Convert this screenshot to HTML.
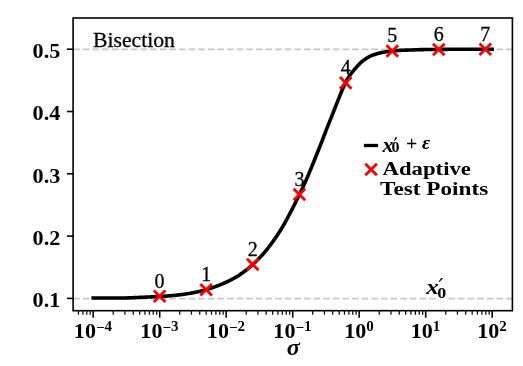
<!DOCTYPE html><html><head><meta charset="utf-8"><style>html,body{margin:0;padding:0;background:#fff;width:523px;height:366px;overflow:hidden}svg{display:block;will-change:transform}text{font-family:"Liberation Serif",serif}</style></head><body>
<svg width="523" height="366" viewBox="0 0 523 366">
<line x1="73.1" y1="49.30" x2="512.4" y2="49.30" stroke="#c8c8c8" stroke-width="1.82" stroke-dasharray="6.72 2.90"/>
<line x1="73.1" y1="298.70" x2="512.4" y2="298.70" stroke="#c8c8c8" stroke-width="1.82" stroke-dasharray="6.72 2.90"/>
<polyline points="93.20,298.05 94.00,298.05 94.80,298.05 95.60,298.05 96.40,298.05 97.20,298.05 98.00,298.05 98.80,298.05 99.60,298.05 100.40,298.05 101.20,298.05 102.00,298.05 102.80,298.05 103.59,298.05 104.39,298.04 105.19,298.04 105.99,298.04 106.79,298.04 107.59,298.04 108.39,298.04 109.19,298.04 109.99,298.04 110.79,298.04 111.59,298.04 112.39,298.04 113.19,298.04 113.99,298.04 114.79,298.04 115.59,298.04 116.39,298.04 117.19,298.04 117.99,298.04 118.79,298.04 119.59,298.04 120.39,298.04 121.19,298.04 121.99,298.03 122.79,298.02 123.58,298.01 124.38,297.99 125.18,297.98 125.98,297.96 126.78,297.94 127.58,297.91 128.38,297.89 129.18,297.86 129.98,297.83 130.78,297.80 131.58,297.77 132.38,297.74 133.18,297.70 133.98,297.67 134.78,297.63 135.58,297.60 136.38,297.56 137.18,297.52 137.98,297.48 138.78,297.45 139.58,297.41 140.38,297.37 141.18,297.33 141.98,297.29 142.78,297.26 143.57,297.22 144.37,297.18 145.17,297.15 145.97,297.11 146.77,297.08 147.57,297.05 148.37,297.01 149.17,296.98 149.97,296.94 150.77,296.91 151.57,296.87 152.37,296.84 153.17,296.80 153.97,296.76 154.77,296.73 155.57,296.69 156.37,296.65 157.17,296.61 157.97,296.57 158.77,296.52 159.57,296.48 160.37,296.44 161.17,296.39 161.97,296.34 162.77,296.30 163.56,296.25 164.36,296.20 165.16,296.14 165.96,296.09 166.76,296.03 167.56,295.97 168.36,295.91 169.16,295.85 169.96,295.78 170.76,295.71 171.56,295.64 172.36,295.57 173.16,295.49 173.96,295.42 174.76,295.34 175.56,295.25 176.36,295.17 177.16,295.09 177.96,295.00 178.76,294.91 179.56,294.82 180.36,294.72 181.16,294.63 181.96,294.52 182.76,294.42 183.55,294.31 184.35,294.19 185.15,294.07 185.95,293.95 186.75,293.83 187.55,293.70 188.35,293.56 189.15,293.43 189.95,293.29 190.75,293.15 191.55,293.01 192.35,292.86 193.15,292.71 193.95,292.56 194.75,292.41 195.55,292.25 196.35,292.08 197.15,291.91 197.95,291.74 198.75,291.57 199.55,291.38 200.35,291.20 201.15,291.01 201.95,290.81 202.75,290.61 203.54,290.41 204.34,290.20 205.14,289.98 205.94,289.76 206.74,289.54 207.54,289.30 208.34,289.06 209.14,288.81 209.94,288.56 210.74,288.29 211.54,288.02 212.34,287.75 213.14,287.47 213.94,287.18 214.74,286.88 215.54,286.59 216.34,286.28 217.14,285.97 217.94,285.66 218.74,285.34 219.54,285.02 220.34,284.70 221.14,284.37 221.94,284.04 222.74,283.71 223.53,283.37 224.33,283.02 225.13,282.67 225.93,282.31 226.73,281.94 227.53,281.56 228.33,281.18 229.13,280.79 229.93,280.40 230.73,279.99 231.53,279.58 232.33,279.15 233.13,278.72 233.93,278.28 234.73,277.83 235.53,277.38 236.33,276.91 237.13,276.42 237.93,275.93 238.73,275.42 239.53,274.90 240.33,274.37 241.13,273.83 241.93,273.28 242.73,272.71 243.52,272.14 244.32,271.55 245.12,270.95 245.92,270.34 246.72,269.72 247.52,269.09 248.32,268.45 249.12,267.79 249.92,267.11 250.72,266.42 251.52,265.71 252.32,264.99 253.12,264.25 253.92,263.50 254.72,262.73 255.52,261.95 256.32,261.16 257.12,260.35 257.92,259.54 258.72,258.71 259.52,257.87 260.32,257.03 261.12,256.17 261.92,255.30 262.72,254.43 263.51,253.55 264.31,252.64 265.11,251.70 265.91,250.74 266.71,249.76 267.51,248.76 268.31,247.75 269.11,246.71 269.91,245.67 270.71,244.61 271.51,243.53 272.31,242.42 273.11,241.30 273.91,240.15 274.71,238.99 275.51,237.82 276.31,236.64 277.11,235.45 277.91,234.25 278.71,233.04 279.51,231.80 280.31,230.54 281.11,229.24 281.91,227.92 282.71,226.57 283.50,225.19 284.30,223.80 285.10,222.38 285.90,220.95 286.70,219.50 287.50,218.02 288.30,216.52 289.10,215.00 289.90,213.47 290.70,211.94 291.50,210.40 292.30,208.84 293.10,207.28 293.90,205.70 294.70,204.11 295.50,202.50 296.30,200.88 297.10,199.25 297.90,197.61 298.70,195.97 299.50,194.31 300.30,192.66 301.10,190.99 301.90,189.32 302.69,187.63 303.49,185.92 304.29,184.18 305.09,182.42 305.89,180.63 306.69,178.81 307.49,176.97 308.29,175.08 309.09,173.17 309.89,171.23 310.69,169.29 311.49,167.35 312.29,165.39 313.09,163.43 313.89,161.46 314.69,159.48 315.49,157.49 316.29,155.50 317.09,153.50 317.89,151.50 318.69,149.48 319.49,147.46 320.29,145.43 321.09,143.38 321.89,141.32 322.68,139.25 323.48,137.17 324.28,135.10 325.08,133.03 325.88,130.96 326.68,128.91 327.48,126.88 328.28,124.85 329.08,122.84 329.88,120.83 330.68,118.83 331.48,116.82 332.28,114.81 333.08,112.80 333.88,110.76 334.68,108.72 335.48,106.68 336.28,104.64 337.08,102.60 337.88,100.59 338.68,98.58 339.48,96.61 340.28,94.66 341.08,92.72 341.88,90.82 342.67,88.95 343.47,87.13 344.27,85.28 345.07,83.46 345.87,81.75 346.67,80.21 347.47,78.86 348.27,77.61 349.07,76.45 349.87,75.35 350.67,74.29 351.47,73.26 352.27,72.24 353.07,71.22 353.87,70.22 354.67,69.24 355.47,68.29 356.27,67.36 357.07,66.46 357.87,65.58 358.67,64.73 359.47,63.90 360.27,63.08 361.07,62.32 361.87,61.63 362.66,61.01 363.46,60.41 364.26,59.82 365.06,59.25 365.86,58.69 366.66,58.17 367.46,57.66 368.26,57.19 369.06,56.74 369.86,56.32 370.66,55.93 371.46,55.58 372.26,55.26 373.06,54.96 373.86,54.68 374.66,54.41 375.46,54.16 376.26,53.92 377.06,53.69 377.86,53.47 378.66,53.27 379.46,53.08 380.26,52.89 381.06,52.72 381.86,52.55 382.65,52.40 383.45,52.24 384.25,52.10 385.05,51.96 385.85,51.82 386.65,51.69 387.45,51.57 388.25,51.45 389.05,51.34 389.85,51.23 390.65,51.13 391.45,51.04 392.25,50.95 393.05,50.86 393.85,50.78 394.65,50.71 395.45,50.65 396.25,50.60 397.05,50.54 397.85,50.50 398.65,50.45 399.45,50.41 400.25,50.37 401.05,50.33 401.85,50.30 402.64,50.26 403.44,50.23 404.24,50.20 405.04,50.17 405.84,50.14 406.64,50.11 407.44,50.08 408.24,50.05 409.04,50.03 409.84,50.00 410.64,49.98 411.44,49.95 412.24,49.93 413.04,49.90 413.84,49.87 414.64,49.85 415.44,49.82 416.24,49.79 417.04,49.76 417.84,49.72 418.64,49.69 419.44,49.66 420.24,49.65 421.04,49.63 421.84,49.61 422.63,49.60 423.43,49.59 424.23,49.57 425.03,49.56 425.83,49.55 426.63,49.54 427.43,49.53 428.23,49.52 429.03,49.51 429.83,49.50 430.63,49.49 431.43,49.48 432.23,49.47 433.03,49.46 433.83,49.46 434.63,49.45 435.43,49.44 436.23,49.43 437.03,49.43 437.83,49.42 438.63,49.41 439.43,49.41 440.23,49.40 441.03,49.39 441.83,49.38 442.62,49.38 443.42,49.37 444.22,49.36 445.02,49.35 445.82,49.34 446.62,49.34 447.42,49.33 448.22,49.32 449.02,49.32 449.82,49.31 450.62,49.30 451.42,49.30 452.22,49.29 453.02,49.28 453.82,49.28 454.62,49.27 455.42,49.27 456.22,49.27 457.02,49.26 457.82,49.26 458.62,49.25 459.42,49.25 460.22,49.25 461.02,49.25 461.82,49.25 462.61,49.24 463.41,49.24 464.21,49.24 465.01,49.24 465.81,49.24 466.61,49.23 467.41,49.23 468.21,49.23 469.01,49.23 469.81,49.23 470.61,49.23 471.41,49.22 472.21,49.22 473.01,49.22 473.81,49.22 474.61,49.22 475.41,49.22 476.21,49.22 477.01,49.21 477.81,49.21 478.61,49.21 479.41,49.21 480.21,49.21 481.01,49.21 481.81,49.21 482.60,49.21 483.40,49.21 484.20,49.20 485.00,49.20 485.80,49.20 486.60,49.20 487.40,49.20 488.20,49.20 489.00,49.20 489.80,49.20 490.60,49.20 491.40,49.20 492.20,49.20" fill="none" stroke="#000" stroke-width="3.6" stroke-linejoin="round" stroke-linecap="square"/>
<path d="M153.80,290.50L165.40,302.10M153.80,302.10L165.40,290.50" stroke="#ff0000" stroke-width="2.8" fill="none"/>
<text x="159.60" y="287.80" font-size="20" stroke="#000" stroke-width="0.3" text-anchor="middle">0</text>
<path d="M200.40,283.90L212.00,295.50M200.40,295.50L212.00,283.90" stroke="#ff0000" stroke-width="2.8" fill="none"/>
<text x="206.20" y="281.20" font-size="20" stroke="#000" stroke-width="0.3" text-anchor="middle">1</text>
<path d="M246.90,258.70L258.50,270.30M246.90,270.30L258.50,258.70" stroke="#ff0000" stroke-width="2.8" fill="none"/>
<text x="252.70" y="256.00" font-size="20" stroke="#000" stroke-width="0.3" text-anchor="middle">2</text>
<path d="M293.60,188.70L305.20,200.30M293.60,200.30L305.20,188.70" stroke="#ff0000" stroke-width="2.8" fill="none"/>
<text x="299.40" y="186.00" font-size="20" stroke="#000" stroke-width="0.3" text-anchor="middle">3</text>
<path d="M339.90,77.10L351.50,88.70M339.90,88.70L351.50,77.10" stroke="#ff0000" stroke-width="2.8" fill="none"/>
<text x="345.70" y="74.40" font-size="20" stroke="#000" stroke-width="0.3" text-anchor="middle">4</text>
<path d="M386.50,45.16L398.10,56.76M386.50,56.76L398.10,45.16" stroke="#ff0000" stroke-width="2.8" fill="none"/>
<text x="392.30" y="42.46" font-size="20" stroke="#000" stroke-width="0.3" text-anchor="middle">5</text>
<path d="M433.00,43.65L444.60,55.25M433.00,55.25L444.60,43.65" stroke="#ff0000" stroke-width="2.8" fill="none"/>
<text x="438.80" y="40.95" font-size="20" stroke="#000" stroke-width="0.3" text-anchor="middle">6</text>
<path d="M479.50,43.50L491.10,55.10M479.50,55.10L491.10,43.50" stroke="#ff0000" stroke-width="2.8" fill="none"/>
<text x="485.30" y="40.80" font-size="20" stroke="#000" stroke-width="0.3" text-anchor="middle">7</text>
<rect x="73.1" y="18.0" width="439.30" height="292.70" fill="none" stroke="#000" stroke-width="1.6"/>
<line x1="66.90" y1="298.40" x2="73.1" y2="298.40" stroke="#000" stroke-width="1.6"/>
<text font-size="21" font-weight="bold" text-anchor="end" transform="translate(60.3,307.10) scale(1.055,1)">0.1</text>
<line x1="66.90" y1="236.10" x2="73.1" y2="236.10" stroke="#000" stroke-width="1.6"/>
<text font-size="21" font-weight="bold" text-anchor="end" transform="translate(60.3,244.80) scale(1.055,1)">0.2</text>
<line x1="66.90" y1="173.80" x2="73.1" y2="173.80" stroke="#000" stroke-width="1.6"/>
<text font-size="21" font-weight="bold" text-anchor="end" transform="translate(60.3,182.50) scale(1.055,1)">0.3</text>
<line x1="66.90" y1="111.50" x2="73.1" y2="111.50" stroke="#000" stroke-width="1.6"/>
<text font-size="21" font-weight="bold" text-anchor="end" transform="translate(60.3,120.20) scale(1.055,1)">0.4</text>
<line x1="66.90" y1="49.20" x2="73.1" y2="49.20" stroke="#000" stroke-width="1.6"/>
<text font-size="21" font-weight="bold" text-anchor="end" transform="translate(60.3,57.90) scale(1.055,1)">0.5</text>
<line x1="93.20" y1="310.7" x2="93.20" y2="317.70" stroke="#000" stroke-width="1.6"/>
<line x1="78.45" y1="310.7" x2="78.45" y2="314.70" stroke="#000" stroke-width="1.2"/>
<line x1="82.90" y1="310.7" x2="82.90" y2="314.70" stroke="#000" stroke-width="1.2"/>
<line x1="86.76" y1="310.7" x2="86.76" y2="314.70" stroke="#000" stroke-width="1.2"/>
<line x1="90.16" y1="310.7" x2="90.16" y2="314.70" stroke="#000" stroke-width="1.2"/>
<line x1="159.70" y1="310.7" x2="159.70" y2="317.70" stroke="#000" stroke-width="1.6"/>
<line x1="113.22" y1="310.7" x2="113.22" y2="314.70" stroke="#000" stroke-width="1.2"/>
<line x1="124.93" y1="310.7" x2="124.93" y2="314.70" stroke="#000" stroke-width="1.2"/>
<line x1="133.24" y1="310.7" x2="133.24" y2="314.70" stroke="#000" stroke-width="1.2"/>
<line x1="139.68" y1="310.7" x2="139.68" y2="314.70" stroke="#000" stroke-width="1.2"/>
<line x1="144.95" y1="310.7" x2="144.95" y2="314.70" stroke="#000" stroke-width="1.2"/>
<line x1="149.40" y1="310.7" x2="149.40" y2="314.70" stroke="#000" stroke-width="1.2"/>
<line x1="153.26" y1="310.7" x2="153.26" y2="314.70" stroke="#000" stroke-width="1.2"/>
<line x1="156.66" y1="310.7" x2="156.66" y2="314.70" stroke="#000" stroke-width="1.2"/>
<line x1="226.20" y1="310.7" x2="226.20" y2="317.70" stroke="#000" stroke-width="1.6"/>
<line x1="179.72" y1="310.7" x2="179.72" y2="314.70" stroke="#000" stroke-width="1.2"/>
<line x1="191.43" y1="310.7" x2="191.43" y2="314.70" stroke="#000" stroke-width="1.2"/>
<line x1="199.74" y1="310.7" x2="199.74" y2="314.70" stroke="#000" stroke-width="1.2"/>
<line x1="206.18" y1="310.7" x2="206.18" y2="314.70" stroke="#000" stroke-width="1.2"/>
<line x1="211.45" y1="310.7" x2="211.45" y2="314.70" stroke="#000" stroke-width="1.2"/>
<line x1="215.90" y1="310.7" x2="215.90" y2="314.70" stroke="#000" stroke-width="1.2"/>
<line x1="219.76" y1="310.7" x2="219.76" y2="314.70" stroke="#000" stroke-width="1.2"/>
<line x1="223.16" y1="310.7" x2="223.16" y2="314.70" stroke="#000" stroke-width="1.2"/>
<line x1="292.70" y1="310.7" x2="292.70" y2="317.70" stroke="#000" stroke-width="1.6"/>
<line x1="246.22" y1="310.7" x2="246.22" y2="314.70" stroke="#000" stroke-width="1.2"/>
<line x1="257.93" y1="310.7" x2="257.93" y2="314.70" stroke="#000" stroke-width="1.2"/>
<line x1="266.24" y1="310.7" x2="266.24" y2="314.70" stroke="#000" stroke-width="1.2"/>
<line x1="272.68" y1="310.7" x2="272.68" y2="314.70" stroke="#000" stroke-width="1.2"/>
<line x1="277.95" y1="310.7" x2="277.95" y2="314.70" stroke="#000" stroke-width="1.2"/>
<line x1="282.40" y1="310.7" x2="282.40" y2="314.70" stroke="#000" stroke-width="1.2"/>
<line x1="286.26" y1="310.7" x2="286.26" y2="314.70" stroke="#000" stroke-width="1.2"/>
<line x1="289.66" y1="310.7" x2="289.66" y2="314.70" stroke="#000" stroke-width="1.2"/>
<line x1="359.20" y1="310.7" x2="359.20" y2="317.70" stroke="#000" stroke-width="1.6"/>
<line x1="312.72" y1="310.7" x2="312.72" y2="314.70" stroke="#000" stroke-width="1.2"/>
<line x1="324.43" y1="310.7" x2="324.43" y2="314.70" stroke="#000" stroke-width="1.2"/>
<line x1="332.74" y1="310.7" x2="332.74" y2="314.70" stroke="#000" stroke-width="1.2"/>
<line x1="339.18" y1="310.7" x2="339.18" y2="314.70" stroke="#000" stroke-width="1.2"/>
<line x1="344.45" y1="310.7" x2="344.45" y2="314.70" stroke="#000" stroke-width="1.2"/>
<line x1="348.90" y1="310.7" x2="348.90" y2="314.70" stroke="#000" stroke-width="1.2"/>
<line x1="352.76" y1="310.7" x2="352.76" y2="314.70" stroke="#000" stroke-width="1.2"/>
<line x1="356.16" y1="310.7" x2="356.16" y2="314.70" stroke="#000" stroke-width="1.2"/>
<line x1="425.70" y1="310.7" x2="425.70" y2="317.70" stroke="#000" stroke-width="1.6"/>
<line x1="379.22" y1="310.7" x2="379.22" y2="314.70" stroke="#000" stroke-width="1.2"/>
<line x1="390.93" y1="310.7" x2="390.93" y2="314.70" stroke="#000" stroke-width="1.2"/>
<line x1="399.24" y1="310.7" x2="399.24" y2="314.70" stroke="#000" stroke-width="1.2"/>
<line x1="405.68" y1="310.7" x2="405.68" y2="314.70" stroke="#000" stroke-width="1.2"/>
<line x1="410.95" y1="310.7" x2="410.95" y2="314.70" stroke="#000" stroke-width="1.2"/>
<line x1="415.40" y1="310.7" x2="415.40" y2="314.70" stroke="#000" stroke-width="1.2"/>
<line x1="419.26" y1="310.7" x2="419.26" y2="314.70" stroke="#000" stroke-width="1.2"/>
<line x1="422.66" y1="310.7" x2="422.66" y2="314.70" stroke="#000" stroke-width="1.2"/>
<line x1="492.20" y1="310.7" x2="492.20" y2="317.70" stroke="#000" stroke-width="1.6"/>
<line x1="445.72" y1="310.7" x2="445.72" y2="314.70" stroke="#000" stroke-width="1.2"/>
<line x1="457.43" y1="310.7" x2="457.43" y2="314.70" stroke="#000" stroke-width="1.2"/>
<line x1="465.74" y1="310.7" x2="465.74" y2="314.70" stroke="#000" stroke-width="1.2"/>
<line x1="472.18" y1="310.7" x2="472.18" y2="314.70" stroke="#000" stroke-width="1.2"/>
<line x1="477.45" y1="310.7" x2="477.45" y2="314.70" stroke="#000" stroke-width="1.2"/>
<line x1="481.90" y1="310.7" x2="481.90" y2="314.70" stroke="#000" stroke-width="1.2"/>
<line x1="485.76" y1="310.7" x2="485.76" y2="314.70" stroke="#000" stroke-width="1.2"/>
<line x1="489.16" y1="310.7" x2="489.16" y2="314.70" stroke="#000" stroke-width="1.2"/>
<text font-size="21" font-weight="bold" text-anchor="middle" transform="translate(92.90,338.4) scale(1.05,1)">10<tspan font-size="14.3" dy="-6">−</tspan><tspan font-size="14.3" dy="-1">4</tspan></text>
<text font-size="21" font-weight="bold" text-anchor="middle" transform="translate(159.40,338.4) scale(1.05,1)">10<tspan font-size="14.3" dy="-6">−</tspan><tspan font-size="14.3" dy="-1">3</tspan></text>
<text font-size="21" font-weight="bold" text-anchor="middle" transform="translate(225.90,338.4) scale(1.05,1)">10<tspan font-size="14.3" dy="-6">−</tspan><tspan font-size="14.3" dy="-1">2</tspan></text>
<text font-size="21" font-weight="bold" text-anchor="middle" transform="translate(292.40,338.4) scale(1.05,1)">10<tspan font-size="14.3" dy="-6">−</tspan><tspan font-size="14.3" dy="-1">1</tspan></text>
<text font-size="21" font-weight="bold" text-anchor="middle" transform="translate(358.90,338.4) scale(1.05,1)">10<tspan font-size="14.3" dy="-7">0</tspan></text>
<text font-size="21" font-weight="bold" text-anchor="middle" transform="translate(425.40,338.4) scale(1.05,1)">10<tspan font-size="14.3" dy="-7">1</tspan></text>
<text font-size="21" font-weight="bold" text-anchor="middle" transform="translate(491.90,338.4) scale(1.05,1)">10<tspan font-size="14.3" dy="-7">2</tspan></text>
<text font-size="22.5" font-weight="bold" font-style="italic" text-anchor="middle" transform="translate(293.4,354.7) scale(1.08,1)">σ</text>
<text font-size="21" stroke="#000" stroke-width="0.3" transform="translate(92.9,46.7) scale(1.035,1)">Bisection</text>
<rect x="437.6" y="297.2" width="8.6" height="2.6" fill="#fff"/>
<text font-size="20" font-weight="bold" font-style="italic" transform="translate(426.2,293.6) scale(1.25,1)">x</text>
<text font-size="15" font-weight="bold" transform="translate(437.3,298.2) scale(1.2,1)">0</text>
<path d="M441.1,277.9L443.1,278.3L439.4,281.9L438.7,281.6Z" fill="#000"/>
<line x1="363.9" y1="145.5" x2="378.1" y2="145.5" stroke="#000" stroke-width="3.3"/>
<text font-size="21" font-weight="bold" font-style="italic" transform="translate(382.6,152.3) scale(1.05,1)">x</text>
<text font-size="15.3" font-weight="bold" transform="translate(391.5,151.7) scale(1.05,1)">0</text>
<path d="M395.6,137.0L397.4,137.4L394.6,141.0L393.9,140.7Z" fill="#000"/>
<text x="406.2" y="150.4" font-size="19" stroke="#000" stroke-width="0.35">+</text>
<text x="422.0" y="148.6" font-size="19.7" font-weight="bold" font-style="italic">ε</text>
<path d="M365.3,163.7L376.90000000000003,175.3M365.3,175.3L376.90000000000003,163.7" stroke="#ff0000" stroke-width="2.8" fill="none"/>
<text font-size="19.6" font-weight="bold" transform="translate(382.5,174.5) scale(1.16,1)">Adaptive</text>
<text font-size="19.6" font-weight="bold" transform="translate(380.1,195.4) scale(1.185,1)">Test Points</text>
</svg></body></html>
